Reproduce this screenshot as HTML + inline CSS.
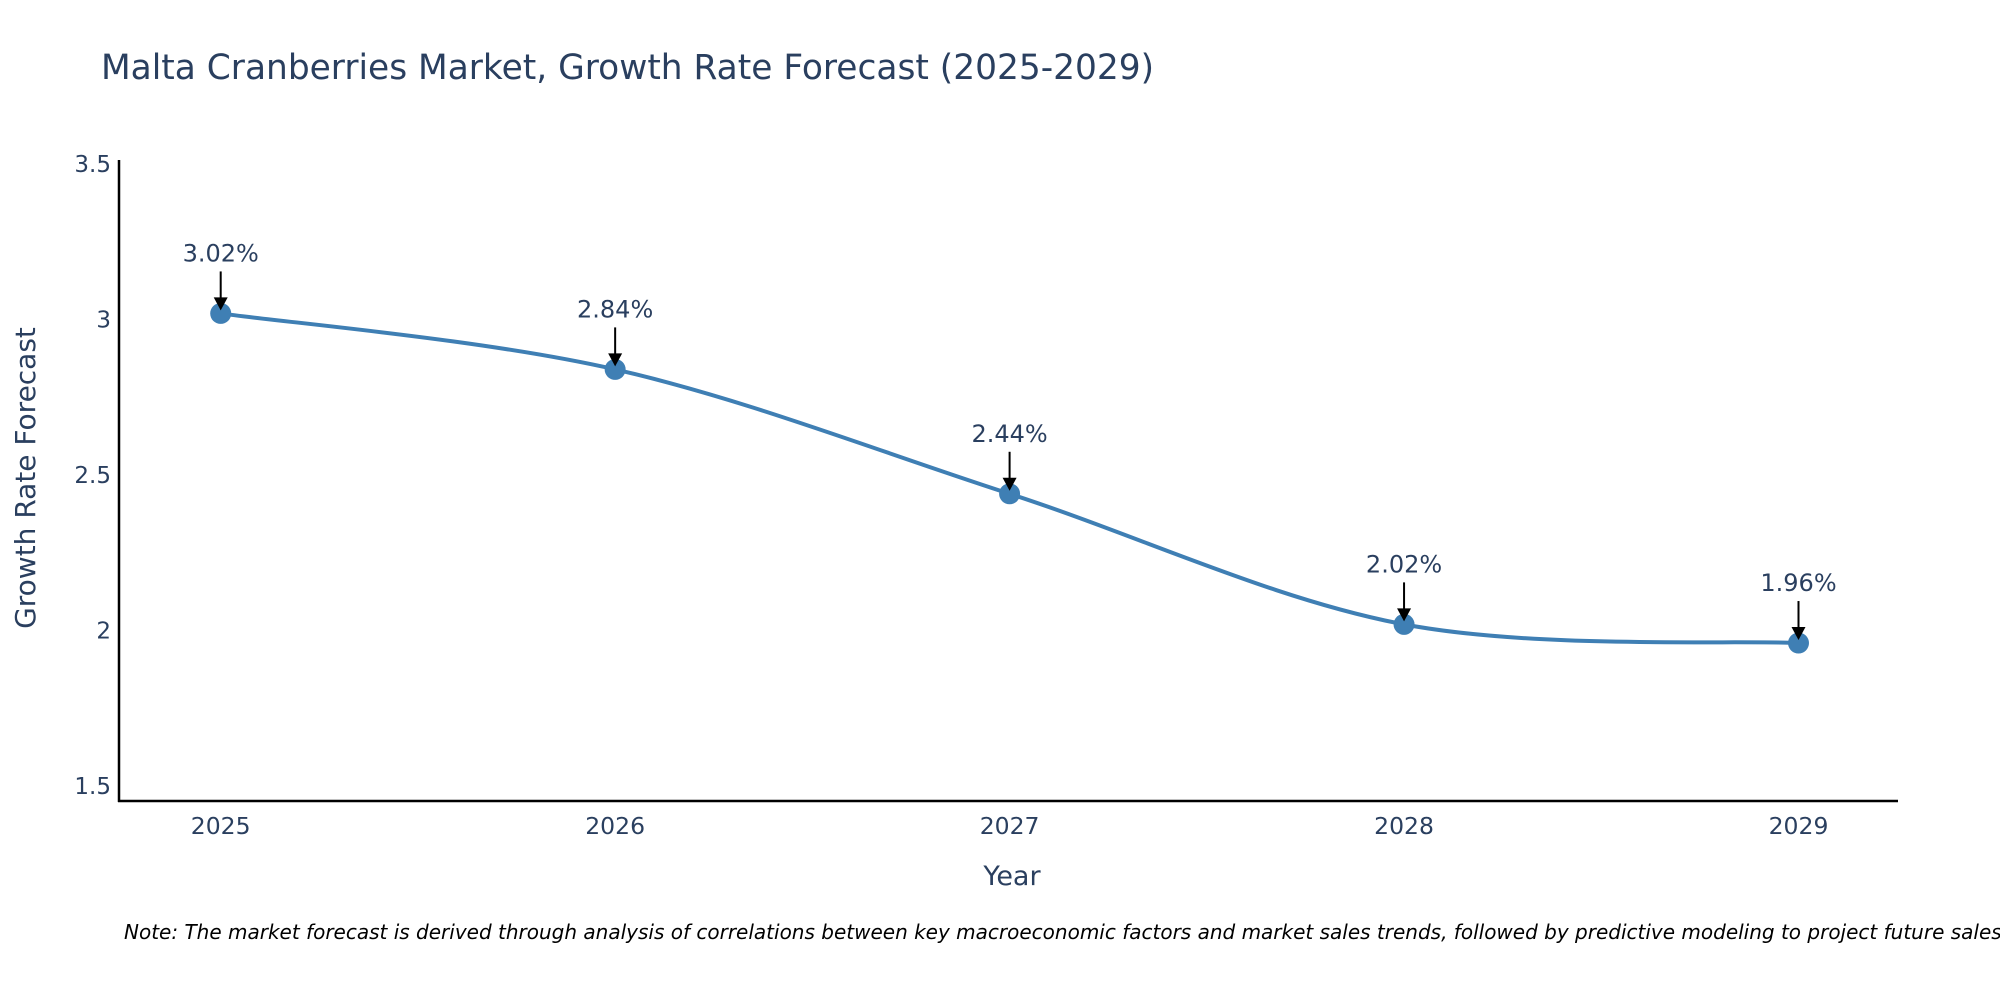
<!DOCTYPE html>
<html><head><meta charset="utf-8"><style>
body{margin:0;background:#fff;overflow:hidden;}
svg text{font-family:"DejaVu Sans","Liberation Sans",sans-serif;fill:#2a3f5f;}
</style></head><body>
<svg id="chart" width="2000" height="1000">
<text x="101" y="79" font-size="34.4">Malta Cranberries Market, Growth Rate Forecast (2025-2029)</text>
<g id="yticks"></g><g id="xticks"></g>
<path id="line" fill="none" stroke="#3f7fb4" stroke-width="4"></path>
<g id="marks"></g>
<line x1="119" y1="160" x2="119" y2="802" stroke="#000" stroke-width="2.5"/>
<line x1="118" y1="801" x2="1898" y2="801" stroke="#000" stroke-width="2.5"/>
<text x="1012" y="885" font-size="27" text-anchor="middle">Year</text>
<text transform="translate(35,478) rotate(-90)" font-size="28" text-anchor="middle">Growth Rate Forecast</text>
<text x="124" y="939" font-size="20" font-style="italic" style="fill:#000">Note: The market forecast is derived through analysis of correlations between key macroeconomic factors and market sales trends, followed by predictive modeling to project future sales.</text>
</svg>
<script>
const years=[2025,2026,2027,2028,2029];
const values=[3.02,2.84,2.44,2.02,1.96];
const labels=["3.02%","2.84%","2.44%","2.02%","1.96%"];
const yTicks=[1.5,2,2.5,3,3.5];
const NS="http://www.w3.org/2000/svg";
const xS=v=>220.7+(v-2025)*394.45;
const yS=v=>801-(v-1.452)*(639/2.055);
function mk(t,a,p){const e=document.createElementNS(NS,t);for(const k in a)e.setAttribute(k,a[k]);p.appendChild(e);return e;}
const yt=document.getElementById('yticks');
yTicks.forEach(v=>{const t=mk('text',{x:111,y:yS(v)+8,'font-size':23,'text-anchor':'end'},yt);t.textContent=v;

});
const xt=document.getElementById('xticks');
years.forEach(v=>{const t=mk('text',{x:xS(v),y:834,'font-size':23.5,'text-anchor':'middle'},xt);t.textContent=v;

});
const P=years.map((y,i)=>[xS(y),yS(values[i])]);
let d='M'+P[0][0]+','+P[0][1];
for(let i=0;i<P.length-1;i++){const p0=P[Math.max(i-1,0)],p1=P[i],p2=P[i+1],p3=P[Math.min(i+2,P.length-1)];const k=1/6;
d+=` C${p1[0]+(p2[0]-p0[0])*k},${p1[1]+(p2[1]-p0[1])*k} ${p2[0]-(p3[0]-p1[0])*k},${p2[1]-(p3[1]-p1[1])*k} ${p2[0]},${p2[1]}`;}
document.getElementById('line').setAttribute('d',d);
const g=document.getElementById('marks');
P.forEach((p,i)=>{const c=mk('circle',{cx:p[0],cy:p[1],r:10.5,fill:'#3f7fb4'},g);


const l=mk('line',{x1:p[0],y1:p[1]-42,x2:p[0],y2:p[1]-14,stroke:'#000','stroke-width':2},g);


const h=mk('path',{d:`M${p[0]-7},${p[1]-16} L${p[0]+7},${p[1]-16} L${p[0]},${p[1]-3} Z`,fill:'#000'},g);


const t=mk('text',{x:p[0],y:p[1]-52,'font-size':24,'text-anchor':'middle'},g);t.textContent=labels[i];

});
</script>
</body></html>
